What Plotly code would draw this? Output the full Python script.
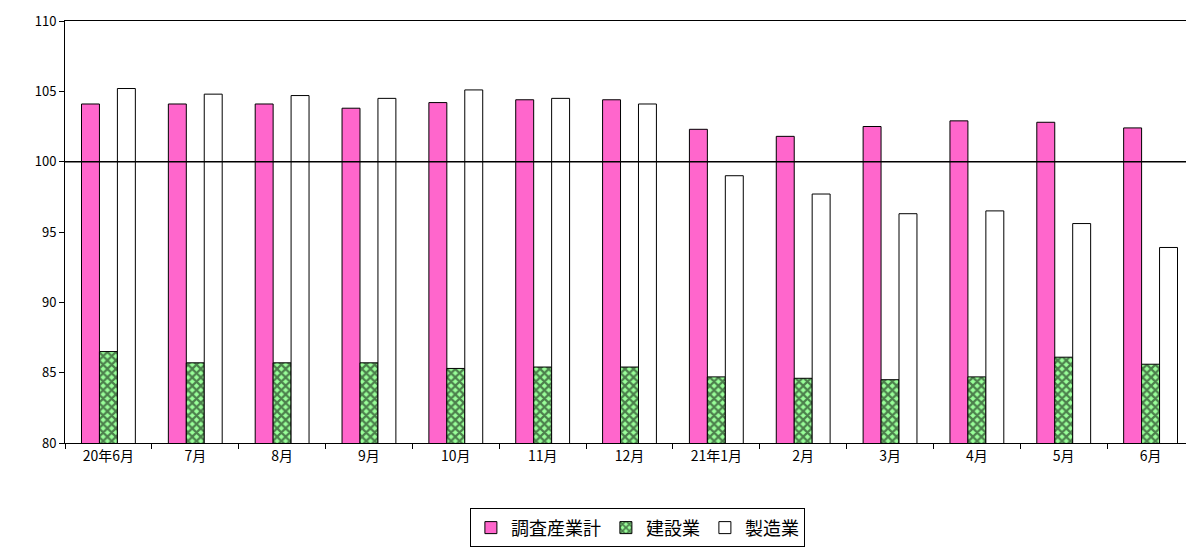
import plotly.graph_objects as go

months = ["20年6月", "7月", "8月", "9月", "10月", "11月", "12月",
          "21年1月", "2月", "3月", "4月", "5月", "6月"]
total = [104.1, 104.1, 104.1, 103.8, 104.2, 104.4, 104.4, 102.3, 101.8, 102.5, 102.9, 102.8, 102.4]
construction = [86.5, 85.7, 85.7, 85.7, 85.3, 85.4, 85.4, 84.7, 84.6, 84.5, 84.7, 86.1, 85.6]
manufacturing = [105.2, 104.8, 104.7, 104.5, 105.1, 104.5, 104.1, 99.0, 97.7, 96.3, 96.5, 95.6, 93.9]

line = dict(color="black", width=1)
fig = go.Figure()
fig.add_trace(go.Bar(x=months, y=total, name="調査産業計",
                     marker=dict(color="#ff66cc", line=line)))
fig.add_trace(go.Bar(x=months, y=construction, name="建設業",
                     marker=dict(color="#99ff99", line=line,
                                 pattern=dict(shape="x", fgcolor="black",
                                              bgcolor="#99ff99", size=6, solidity=0.6))))
fig.add_trace(go.Bar(x=months, y=manufacturing, name="製造業",
                     marker=dict(color="white", line=line)))

fig.add_hline(y=100, line=dict(color="black", width=1.5))

# page body has an 8px margin, so the figure is shrunk by that much
fig.update_layout(
    width=1186, height=541,
    margin=dict(l=57, r=0, t=13, b=106, autoexpand=False),
    plot_bgcolor="white", paper_bgcolor="white",
    font=dict(family="Noto Sans CJK JP", size=14, color="black"),
    barmode="group", bargap=0.38, bargroupgap=0,
    legend=dict(orientation="h", x=0.507, xanchor="center", y=-0.155, yanchor="top",
                bordercolor="black", borderwidth=1, font=dict(size=18),
                itemwidth=30, tracegroupgap=0),
)
fig.update_xaxes(showline=True, linecolor="black", mirror=True, automargin=False,
                 ticks="outside", tickson="boundaries", ticklen=5, tickcolor="black",
                 range=[-0.5, 12.5])
fig.update_yaxes(range=[80, 110], dtick=5, showgrid=False, showline=True, automargin=False,
                 linecolor="black", ticks="outside", ticklen=5, tickcolor="black",
                 tickfont=dict(size=13))

fig.write_html("out.html")
